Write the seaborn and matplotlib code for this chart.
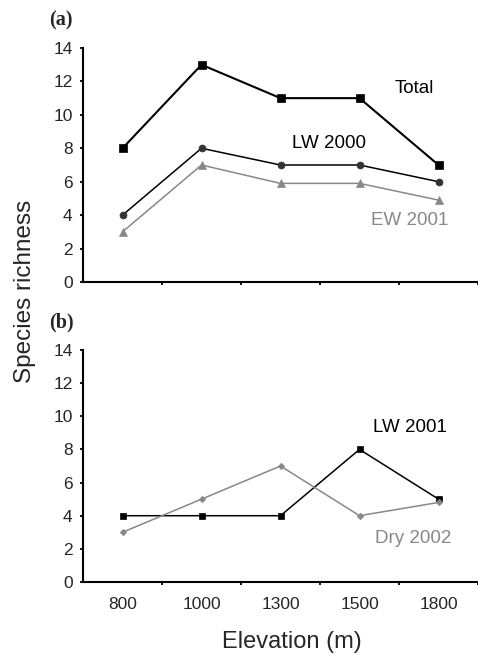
import matplotlib
matplotlib.use("Agg")
import matplotlib.pyplot as plt
import seaborn as sns
import numpy as np

# ---- data ----
elevations = ["800", "1000", "1300", "1500", "1800"]
total = [8, 13, 11, 11, 7]
lw2000 = [4, 8, 7, 7, 6]
ew2001 = [3, 7, 5.9, 5.9, 4.9]
lw2001 = [4, 4, 4, 8, 5]
dry2002 = [3, 5, 7, 4, 4.8]
y_ticks = [0, 2, 4, 6, 8, 10, 12, 14]

sns.set_style("ticks")
plt.rcParams["font.family"] = ["Liberation Sans", "DejaVu Sans"]

W, H = 478, 659
fig = plt.figure(figsize=(W / 100, H / 100), dpi=100)

left = 83 / W
width = (W - 83) / W
ax_a = fig.add_axes([left, 1 - 282 / H, width, (282 - 48) / H])
ax_b = fig.add_axes([left, 1 - 582 / H, width, (582 - 350) / H])

GRAY = "#888888"
BLACK = "#000000"

def draw(ax, y, color, marker, ms, lw):
    sns.lineplot(x=elevations, y=y, sort=False, ax=ax, color=color,
                 marker=marker, markersize=ms, linewidth=lw,
                 markeredgecolor=color, markeredgewidth=0.5)

draw(ax_a, total, BLACK, "s", 5.2, 1.5)
draw(ax_a, lw2000, BLACK, "o", 5.0, 1.1)
ax_a.lines[-1].set_markerfacecolor("#333333")
ax_a.lines[-1].set_markeredgecolor("#333333")
draw(ax_a, ew2001, GRAY, "^", 6.0, 1.1)

draw(ax_b, lw2001, BLACK, "s", 3.8, 1.1)
draw(ax_b, dry2002, GRAY, "D", 3.3, 1.1)

for ax in (ax_a, ax_b):
    ax.set_xlim(-0.5, -0.5 + (W - 83) / 80)
    ax.set_ylim(0, 14)
    ax.set_yticks(y_ticks)
    ax.set_yticklabels([str(t) for t in y_ticks])
    ax.set_xticks(range(len(elevations)))
    ax.set_xticks([i + 0.5 for i in range(len(elevations))], minor=True)
    ax.tick_params(axis="x", which="major", length=0, pad=11, labelsize=12.5)
    ax.tick_params(axis="x", which="minor", length=2.4, width=1.3, direction="out", color="black")
    ax.tick_params(axis="y", length=2.4, width=1.3, pad=5, labelsize=12.5, color="black")
    for s in ("top", "right"):
        ax.spines[s].set_visible(False)
    for s in ("left", "bottom"):
        ax.spines[s].set_linewidth(1.5)
        ax.spines[s].set_color("black")
    ax.set_xlabel("")
    ax.set_ylabel("")

ax_a.set_xticklabels([])
ax_b.set_xticklabels(elevations)

tfs = 13.5
ax_a.text(3.7, 11.6, "Total", ha="center", va="center", fontsize=tfs, color=BLACK)
ax_a.text(2.61, 8.3, "LW 2000", ha="center", va="center", fontsize=tfs, color=BLACK)
ax_a.text(3.64, 3.7, "EW 2001", ha="center", va="center", fontsize=tfs, color=GRAY)
ax_b.text(3.64, 9.3, "LW 2001", ha="center", va="center", fontsize=tfs, color=BLACK)
ax_b.text(3.68, 2.65, "Dry 2002", ha="center", va="center", fontsize=tfs, color=GRAY)

fig.text(61 / W, 1 - 20 / H, "(a)", ha="center", va="center", fontsize=14.5,
         fontweight="bold", family=["Liberation Serif", "DejaVu Serif"])
fig.text(61 / W, 1 - 322 / H, "(b)", ha="center", va="center", fontsize=14.5,
         fontweight="bold", family=["Liberation Serif", "DejaVu Serif"])

fig.text(25 / W, 1 - 291 / H, "Species richness", rotation=90, ha="center", va="center",
         fontsize=17.5)
fig.text(292 / W, 1 - 642 / H, "Elevation (m)", ha="center", va="center", fontsize=17)

fig.savefig("out.png", dpi=100)
